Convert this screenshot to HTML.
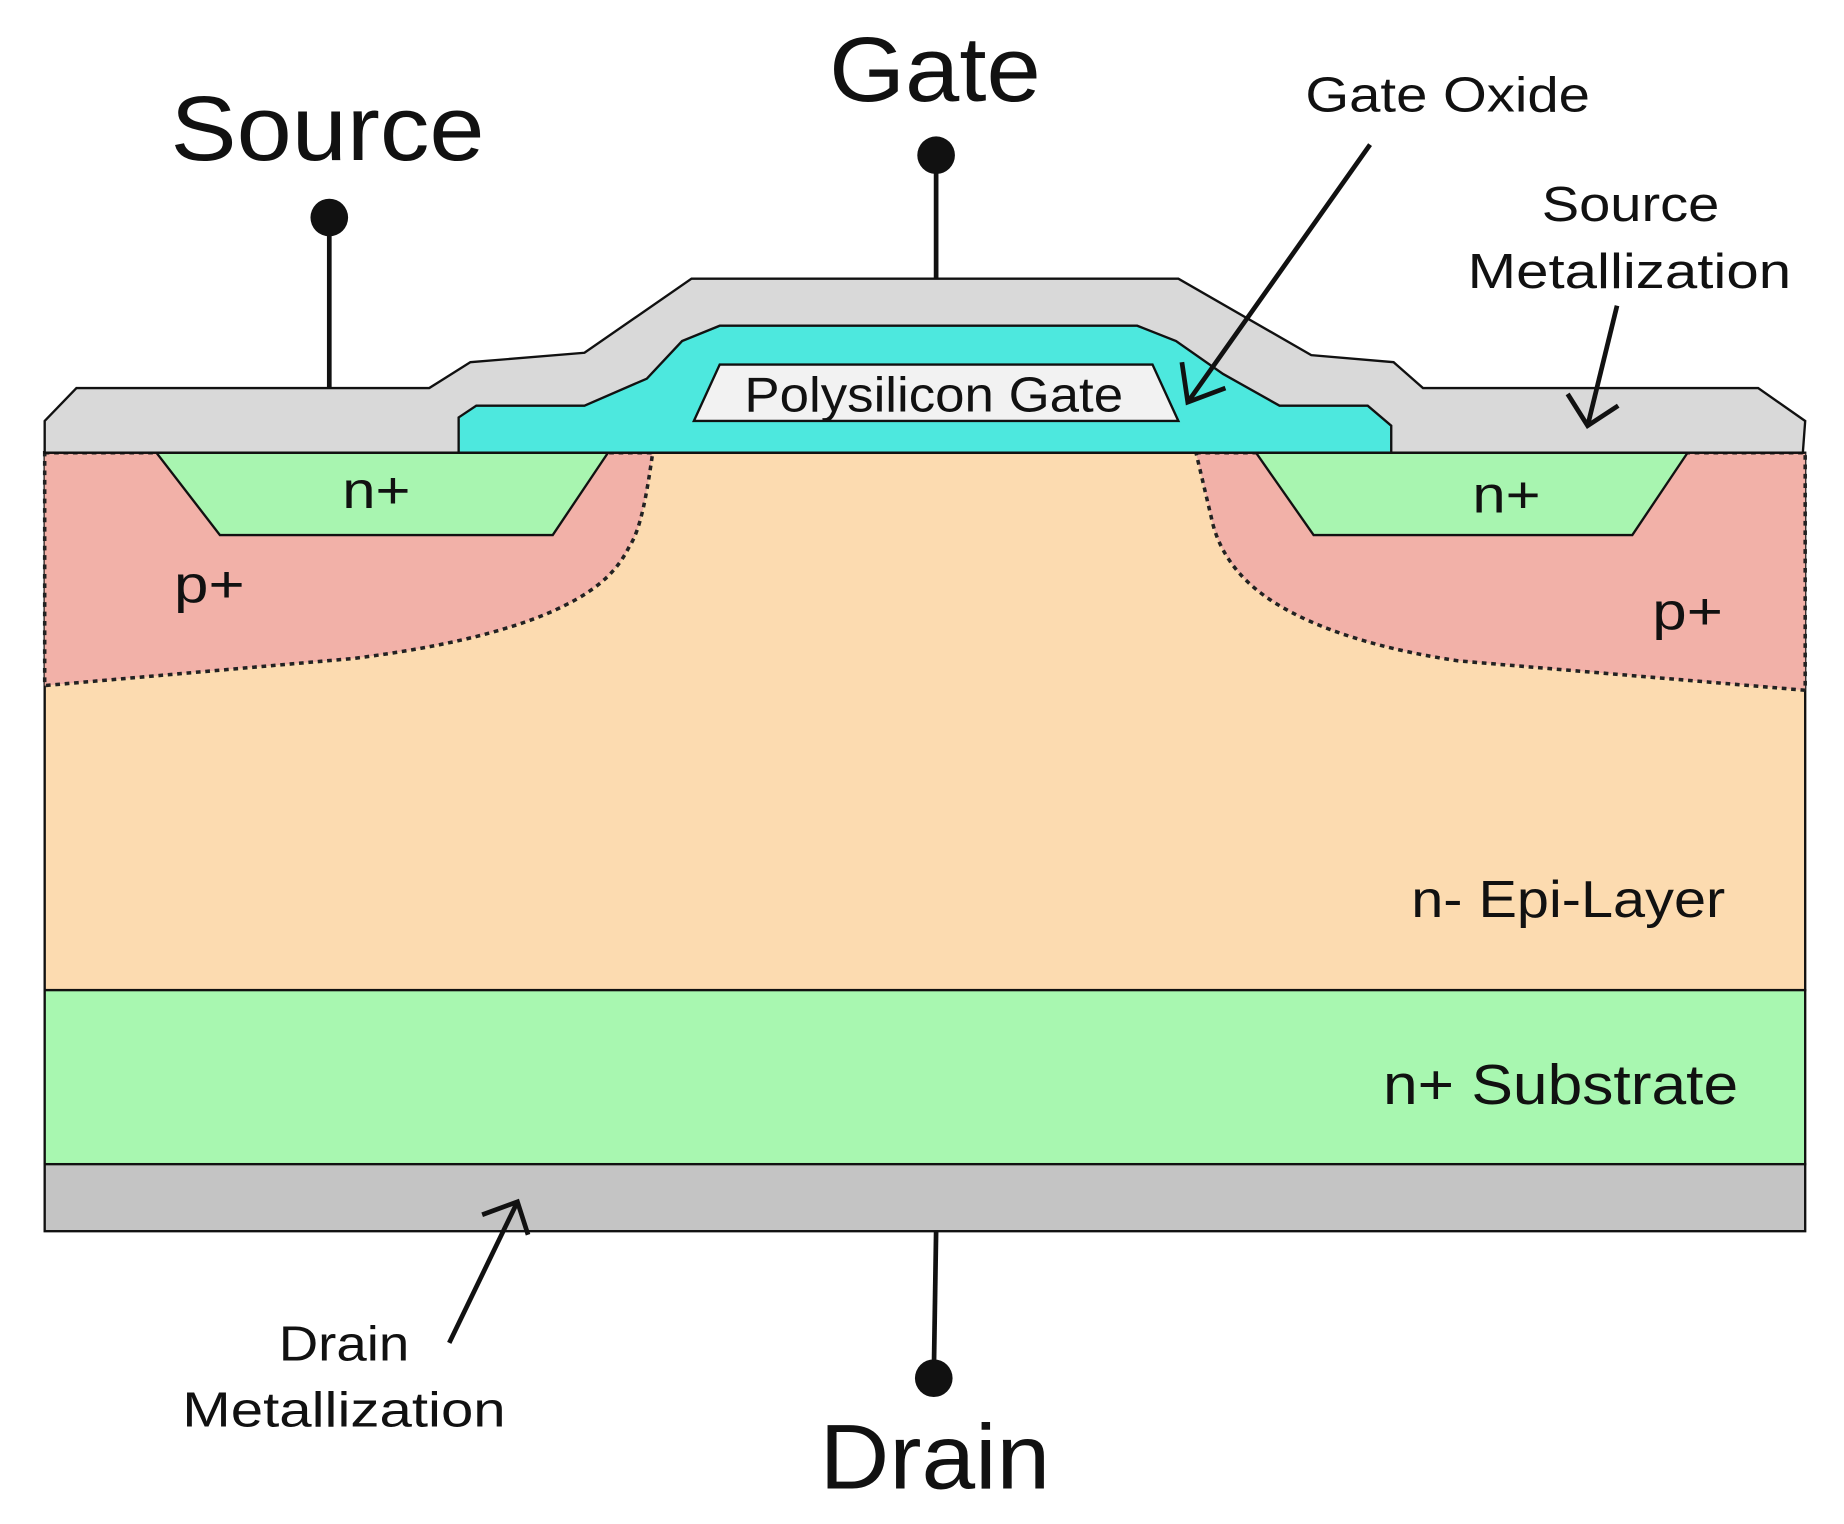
<!DOCTYPE html>
<html><head><meta charset="utf-8"><style>
html,body{margin:0;padding:0;background:#fff;}
svg{display:block;}
text{font-family:"Liberation Sans",sans-serif;fill:#111;}
</style></head><body>
<svg width="1844" height="1524" viewBox="0 0 1568 1296" preserveAspectRatio="none" xmlns="http://www.w3.org/2000/svg">
<rect width="1568" height="1296" fill="#fff"/>
<rect x="38" y="385" width="1497" height="457" fill="#fcdbb0" stroke="#111" stroke-width="2"/>
<path d="M38,385 L555,385 C550,420 545,450 535,465 C525,485 510,500 480,515 C440,535 380,550 300,560 L38,583 Z" fill="#f2b1a8"/>
<path d="M38,385 L555,385 C550,420 545,450 535,465 C525,485 510,500 480,515 C440,535 380,550 300,560 L38,583 Z" fill="none" stroke="#222" stroke-width="3" stroke-dasharray="4,4"/>
<path d="M1017,385 L1535,385 L1535,587 L1240,562 C1160,550 1110,530 1080,510 C1050,490 1035,465 1030,440 Z" fill="#f2b1a8"/>
<path d="M1017,385 L1535,385 L1535,587 L1240,562 C1160,550 1110,530 1080,510 C1050,490 1035,465 1030,440 Z" fill="none" stroke="#222" stroke-width="3" stroke-dasharray="4,4"/>
<polygon points="133,385 517,385 470,455 187,455" fill="#a8f5b0" stroke="#111" stroke-width="2"/>
<polygon points="1068,385 1435,385 1388,455 1117,455" fill="#a8f5b0" stroke="#111" stroke-width="2"/>
<rect x="38" y="842" width="1497" height="148" fill="#a8f7b0" stroke="#111" stroke-width="2"/>
<rect x="38" y="990" width="1497" height="57" fill="#c4c4c4" stroke="#111" stroke-width="2"/>
<polygon points="38,385 38,358 65,330 365,330 400,308 497,300 588,237 1002,237 1115,302 1185,308 1210,330 1495,330 1535,358 1533,385" fill="#d9d9d9" stroke="#111" stroke-width="2"/>
<polygon points="390,385 390,355 405,345 497,345 550,322 580,290 612,277 967,277 1000,290 1040,318 1088,345 1163,345 1183,362 1183,385" fill="#4de8de" stroke="#111" stroke-width="2"/>
<line x1="38" y1="385" x2="1535" y2="385" stroke="#111" stroke-width="2"/>
<polygon points="590,358 612,310 980,310 1002,358" fill="#f2f2f2" stroke="#111" stroke-width="2"/>
<text x="633" y="350" font-size="42" textLength="322" lengthAdjust="spacingAndGlyphs">Polysilicon Gate</text>
<line x1="280" y1="185" x2="280" y2="330" stroke="#111" stroke-width="4"/>
<circle cx="280" cy="185" r="16" fill="#111"/>
<line x1="796" y1="132" x2="796" y2="237" stroke="#111" stroke-width="4"/>
<circle cx="796" cy="132" r="16" fill="#111"/>
<line x1="796" y1="1047" x2="794" y2="1172" stroke="#111" stroke-width="4"/>
<circle cx="794" cy="1172" r="16" fill="#111"/>
<g stroke="#111" stroke-width="4" fill="none">
<line x1="1165" y1="123" x2="1010" y2="342"/>
<polyline points="1005,308 1010,342 1042,330"/>
<line x1="1375" y1="260" x2="1350" y2="362"/>
<polyline points="1333,335 1350,362 1376,345"/>
<line x1="382" y1="1142" x2="440" y2="1022"/>
<polyline points="410,1033 440,1022 449,1050"/>
</g>
<text x="145" y="136" font-size="78" textLength="267" lengthAdjust="spacingAndGlyphs">Source</text>
<text x="705" y="86" font-size="78" textLength="180" lengthAdjust="spacingAndGlyphs">Gate</text>
<text x="697" y="1266" font-size="78" textLength="196" lengthAdjust="spacingAndGlyphs">Drain</text>
<text x="1110" y="95" font-size="42" textLength="242" lengthAdjust="spacingAndGlyphs">Gate Oxide</text>
<text x="1311" y="188" font-size="42" textLength="151" lengthAdjust="spacingAndGlyphs">Source</text>
<text x="1248" y="245" font-size="42" textLength="275" lengthAdjust="spacingAndGlyphs">Metallization</text>
<text x="237" y="1157" font-size="42" textLength="111" lengthAdjust="spacingAndGlyphs">Drain</text>
<text x="155" y="1213" font-size="42" textLength="275" lengthAdjust="spacingAndGlyphs">Metallization</text>
<text x="291" y="432" font-size="44" textLength="58" lengthAdjust="spacingAndGlyphs">n+</text>
<text x="1252" y="436" font-size="44" textLength="58" lengthAdjust="spacingAndGlyphs">n+</text>
<text x="148" y="512" font-size="44" textLength="60" lengthAdjust="spacingAndGlyphs">p+</text>
<text x="1405" y="535" font-size="44" textLength="60" lengthAdjust="spacingAndGlyphs">p+</text>
<text x="1200" y="780" font-size="44" textLength="267" lengthAdjust="spacingAndGlyphs">n- Epi-Layer</text>
<text x="1176" y="939" font-size="48" textLength="302" lengthAdjust="spacingAndGlyphs">n+ Substrate</text>
</svg>
</body></html>
